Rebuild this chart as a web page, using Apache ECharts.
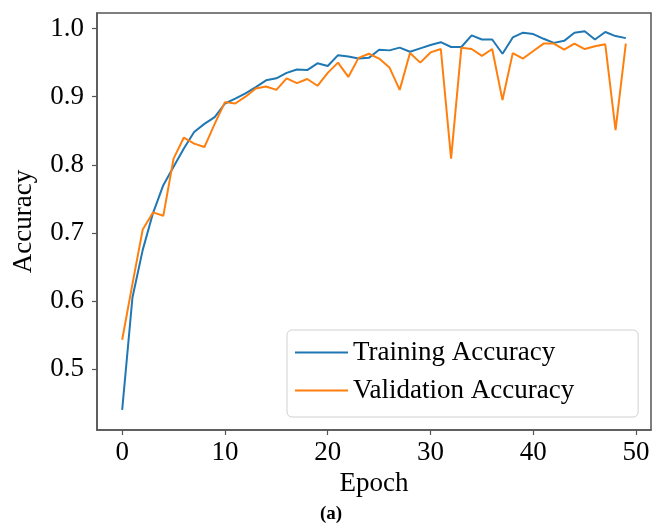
<!DOCTYPE html>
<html>
<head>
<meta charset="utf-8">
<script src="https://cdn.jsdelivr.net/npm/echarts@6/dist/echarts.min.js"></script>
<style>
  html, body { margin: 0; padding: 0; background: #fff; }
  #chart { width: 664px; height: 525px; }
</style>
</head>
<body>
<div id="chart"></div>
<script>
// Accuracy per epoch for the training and validation sets
const epochs = Array.from({ length: 50 }, (_, i) => i);
const trainingAccuracy = [
  0.440, 0.605, 0.675, 0.729, 0.770, 0.797, 0.824, 0.848, 0.860, 0.870,
  0.890, 0.897, 0.905, 0.914, 0.924, 0.927, 0.935, 0.940, 0.939, 0.949,
  0.945, 0.961, 0.959, 0.956, 0.957, 0.969, 0.968, 0.972, 0.966, 0.971,
  0.976, 0.980, 0.973, 0.973, 0.990, 0.984, 0.984, 0.963, 0.987, 0.994,
  0.992, 0.985, 0.979, 0.982, 0.994, 0.996, 0.984, 0.995, 0.989, 0.986
];
const validationAccuracy = [
  0.543, 0.625, 0.705, 0.730, 0.725, 0.809, 0.840, 0.831, 0.826, 0.860,
  0.892, 0.890, 0.900, 0.912, 0.915, 0.910, 0.927, 0.920, 0.926, 0.916,
  0.935, 0.950, 0.929, 0.957, 0.963, 0.956, 0.943, 0.910, 0.964, 0.950,
  0.965, 0.970, 0.809, 0.972, 0.970, 0.960, 0.970, 0.895, 0.964, 0.956,
  0.967, 0.978, 0.978, 0.969, 0.978, 0.970, 0.974, 0.977, 0.851, 0.978
];
const xTicks = [0, 10, 20, 30, 40, 50];
const yTicks = [0.5, 0.6, 0.7, 0.8, 0.9, 1.0];

const FONT = "'Liberation Serif', 'Times New Roman', serif";
const AXIS_COLOR = '#555';

const pairs = arr => arr.map((v, i) => [epochs[i], v]);

const chart = echarts.init(document.getElementById('chart'), null, { renderer: 'canvas' });
chart.setOption({
  animation: false,
  backgroundColor: '#fff',
  textStyle: { fontFamily: FONT },
  grid: {
    left: 97, right: 13, top: 13, bottom: 95,
    show: true, borderColor: AXIS_COLOR, borderWidth: 1.5,
    outerBoundsMode: 'none'
  },
  xAxis: {
    type: 'value',
    min: -2.45, max: 51.45,
    name: 'Epoch', nameLocation: 'middle', nameGap: 31,
    nameTextStyle: { fontFamily: FONT, fontSize: 27, color: '#000' },
    axisLine: { show: true, onZero: false, lineStyle: { color: AXIS_COLOR, width: 1.5 } },
    axisTick: { show: true, inside: false, length: 5, customValues: xTicks,
                lineStyle: { color: AXIS_COLOR, width: 1.2 } },
    axisLabel: { customValues: xTicks, margin: 9, fontFamily: FONT, fontSize: 27, color: '#000',
                 formatter: v => String(Math.round(v)) },
    splitLine: { show: false }
  },
  yAxis: {
    type: 'value',
    min: 0.4104, max: 1.0229,
    name: 'Accuracy', nameLocation: 'middle', nameGap: 60, nameRotate: 90,
    nameTextStyle: { fontFamily: FONT, fontSize: 27, color: '#000' },
    axisLine: { show: true, onZero: false, lineStyle: { color: AXIS_COLOR, width: 1.5 } },
    axisTick: { show: true, inside: false, length: 5, customValues: yTicks,
                lineStyle: { color: AXIS_COLOR, width: 1.2 } },
    axisLabel: { customValues: yTicks, margin: 13, fontFamily: FONT, fontSize: 27, color: '#000',
                 formatter: v => v.toFixed(1) },
    splitLine: { show: false }
  },
  legend: {
    left: 287, top: 330,
    orient: 'vertical',
    backgroundColor: '#fff',
    borderColor: '#d0d0d0', borderWidth: 1, borderRadius: 5,
    padding: [9, 64, 13, 8],
    itemGap: 11,
    icon: 'rect',
    itemWidth: 53, itemHeight: 2,
    textStyle: { fontFamily: FONT, fontSize: 27, color: '#000', lineHeight: 27 },
    data: ['Training Accuracy', 'Validation Accuracy']
  },
  graphic: [{
    type: 'text',
    left: 320, top: 505,
    style: { text: '(a)', font: "bold 19px 'Liberation Serif', 'Times New Roman', serif", fill: '#000' }
  }],
  series: [
    {
      name: 'Training Accuracy', type: 'line',
      data: pairs(trainingAccuracy),
      symbol: 'none', smooth: false,
      lineStyle: { color: '#1f77b4', width: 2 },
      itemStyle: { color: '#1f77b4' }
    },
    {
      name: 'Validation Accuracy', type: 'line',
      data: pairs(validationAccuracy),
      symbol: 'none', smooth: false,
      lineStyle: { color: '#ff7f0e', width: 2 },
      itemStyle: { color: '#ff7f0e' }
    }
  ]
});
</script>
</body>
</html>
